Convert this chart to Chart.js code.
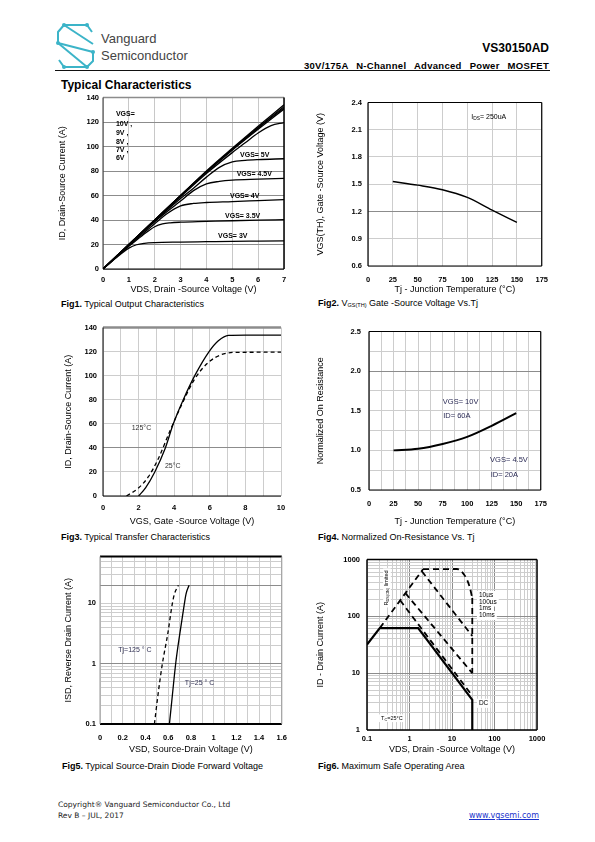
<!DOCTYPE html>
<html lang="en">
<head>
<meta charset="UTF-8">
<title>VS30150AD Typical Characteristics</title>
<script src="https://cdn.jsdelivr.net/npm/chart.js"></script>
<style>
  body { margin:0; background:#fff; width:595px; height:842px; position:relative; overflow:hidden;
         font-family:'Liberation Sans', Arial, sans-serif; color:#000; }
  .t { position:absolute; white-space:nowrap; line-height:1; transform:translateY(-50%); }
  .cap { font-size:9px; color:#000; }
  .cap sub { font-size:5.5px; vertical-align:-1px; }
  canvas { position:absolute; }
</style>
</head>
<body>

<svg style="position:absolute;left:54px;top:20px" width="46" height="54" viewBox="0 0 46 54">
  <g fill="none" stroke="#3cb4c8" stroke-width="2" stroke-linejoin="round">
    <polyline points="38,12 33,5 10,5 4,12 4,23 39,32 39,41 33,47 10,47 5,40"/>
    <polyline points="10,5 39,24"/>
    <polyline points="4,23 33,47"/>
  </g>
  <g fill="#3cb4c8">
    <circle cx="33" cy="5" r="2"/><circle cx="10" cy="5" r="2"/><circle cx="4" cy="23" r="2"/>
    <circle cx="39" cy="32" r="2"/><circle cx="33" cy="47" r="2"/><circle cx="10" cy="47" r="2"/>
  </g>
</svg>
<div class="t" style="left:101px;top:38px;font-size:13px;color:#444">Vanguard</div>
<div class="t" style="left:101px;top:55px;font-size:13px;color:#444">Semiconductor</div>
<div class="t" style="right:46px;top:48px;font-size:12px;font-weight:bold">VS30150AD</div>
<div class="t" style="right:46px;top:66px;font-size:9.5px;font-weight:bold;word-spacing:5px;letter-spacing:0.3px">30V/175A N-Channel Advanced Power MOSFET</div>
<div style="position:absolute;left:55px;top:70px;width:495px;height:1px;background:#111"></div>
<div class="t" style="left:61px;top:85px;font-size:12px;font-weight:bold">Typical Characteristics</div>

<canvas id="c1"></canvas>
<canvas id="c2"></canvas>
<canvas id="c3"></canvas>
<canvas id="c4"></canvas>
<canvas id="c5"></canvas>
<canvas id="c6"></canvas>

<div class="t cap" style="left:61px;top:304px"><b>Fig1.</b> Typical Output Characteristics</div>
<div class="t cap" style="left:318px;top:304px"><b>Fig2.</b> V<sub>GS(TH)</sub> Gate -Source Voltage Vs.Tj</div>
<div class="t cap" style="left:61px;top:537px"><b>Fig3.</b> Typical Transfer Characteristics</div>
<div class="t cap" style="left:318px;top:537px"><b>Fig4.</b> Normalized On-Resistance Vs. Tj</div>
<div class="t cap" style="left:62px;top:766px"><b>Fig5.</b> Typical Source-Drain Diode Forward Voltage</div>
<div class="t cap" style="left:318px;top:766px"><b>Fig6.</b> Maximum Safe Operating Area</div>

<div class="t" style="left:58px;top:805px;font-family:'DejaVu Sans';font-size:7.5px;color:#222">Copyright® Vanguard Semiconductor Co., Ltd</div>
<div class="t" style="left:58px;top:816px;font-family:'DejaVu Sans';font-size:7.5px;color:#222">Rev B – JUL, 2017</div>
<div class="t" style="right:56px;top:816px;font-family:'DejaVu Sans';font-size:8px;color:#1a33cc;text-decoration:underline">www.vgsemi.com</div>

<script>
// ---- Fig1: output characteristics (ID vs VDS)
const f1XTicks = [0, 1, 2, 3, 4, 5, 6, 7];
const f1XLabels = ['0', '1', '2', '3', '4', '5', '6', '7'];
const f1YTicks = [0, 20, 40, 60, 80, 100, 120, 140];
const f1YLabels = ['0', '20', '40', '60', '80', '100', '120', '140'];
const vgs10X = [0, 1, 2, 3, 4, 5, 6, 7];
const vgs10Y = [0, 20, 40, 60, 80, 98.5, 116.5, 134];
const vgs9Y = [0, 20, 40, 60, 79.5, 98, 115.5, 132.5];
const vgs8Y = [0, 20, 40, 60, 79.5, 97.5, 115, 131.5];
const vgs7Y = [0, 20, 40, 59.5, 79, 97, 114, 130.5];
const vgs6X = [0, 1, 2, 3, 4, 5, 5.5, 6, 6.5, 7];
const vgs6Y = [0, 19.8, 39.5, 59, 78, 95, 103, 111, 117, 119.5];
const vgs5X = [0, 1, 2, 3, 3.5, 4, 4.5, 5, 5.5, 6, 7];
const vgs5Y = [0, 19.5, 39, 57.5, 66, 75, 83, 87.5, 88.7, 89.3, 90];
const vgs45X = [0, 1, 2, 3, 3.5, 4, 4.5, 5, 6, 7];
const vgs45Y = [0, 19.5, 38.5, 55.5, 64, 69.5, 71.5, 72.5, 73.3, 74];
const vgs4X = [0, 1, 2, 2.5, 3, 3.5, 4, 5, 6, 7];
const vgs4Y = [0, 19, 37, 45.5, 51.5, 53.5, 54.3, 55, 55.8, 56.6];
const vgs35X = [0, 0.5, 1, 1.5, 2, 2.3, 2.6, 3, 4, 5, 6, 7];
const vgs35Y = [0, 9.5, 18.5, 27, 34.5, 36.8, 37.7, 38.2, 38.8, 39.4, 39.9, 40.3];
const vgs3X = [0, 0.5, 1, 1.3, 1.6, 2, 3, 4, 5, 6, 7];
const vgs3Y = [0, 9, 17, 19.8, 21, 21.6, 22, 22.3, 22.6, 22.8, 23];

// ---- Fig2: threshold voltage vs Tj
const f2XTicks = [0, 25, 50, 75, 100, 125, 150, 175];
const f2XLabels = ['0', '25', '50', '75', '100', '125', '150', '175'];
const f2YTicks = [0.6, 0.9, 1.2, 1.5, 1.8, 2.1, 2.4];
const f2YLabels = ['0.6', '0.9', '1.2', '1.5', '1.8', '2.1', '2.4'];
const vthTj = [25, 50, 75, 100, 125, 150];
const vthV = [1.53, 1.49, 1.44, 1.355, 1.215, 1.08];

// ---- Fig3: transfer characteristics
const f3XTicks = [0, 1, 2, 3, 4, 5, 6, 7, 8, 9, 10];
const f3XLabels = ['0', '', '2', '', '4', '', '6', '', '8', '', '10'];
const f3YTicks = [0, 20, 40, 60, 80, 100, 120, 140];
const f3YLabels = ['0', '20', '40', '60', '80', '100', '120', '140'];
const t25Vgs = [2.0, 2.4, 2.91, 3.48, 3.95, 4.51, 5.17, 5.96, 6.48, 7.05, 8, 10];
const t25Id = [0, 7, 20, 39, 60, 80, 100.4, 120, 129, 133.5, 133.7, 133.7];
const t125Vgs = [1.32, 1.97, 2.54, 3.1, 3.76, 4.42, 5.17, 5.92, 6.67, 7.4, 10];
const t125Id = [0, 6.3, 15.8, 30.8, 54, 75.9, 97.7, 111, 117.6, 119.3, 119.5];

// ---- Fig4: normalized on-resistance vs Tj
const f4XTicks = [0, 12.5, 25, 37.5, 50, 62.5, 75, 87.5, 100, 112.5, 125, 137.5, 150, 162.5, 175];
const f4XLabels = ['0', '', '25', '', '50', '', '75', '', '100', '', '125', '', '150', '', '175'];
const f4YTicks = [0.5, 0.75, 1, 1.25, 1.5, 1.75, 2, 2.25, 2.5];
const f4YLabels = ['0.5', '', '1.0', '', '1.5', '', '2.0', '', '2.5'];
const rdsTj = [25, 50, 75, 100, 125, 150];
const rdsNorm = [1.0, 1.02, 1.08, 1.17, 1.31, 1.47];

// ---- Fig5: source-drain diode forward voltage
const f5XTicks = [0, 0.1, 0.2, 0.3, 0.4, 0.5, 0.6, 0.7, 0.8, 0.9, 1, 1.1, 1.2, 1.3, 1.4, 1.5, 1.6];
const f5XLabels = ['0', '', '0.2', '', '0.4', '', '0.6', '', '0.8', '', '1', '', '1.2', '', '1.4', '', '1.6'];
const f5YTicks = [0.1, 0.2, 0.3, 0.4, 0.5, 0.6, 0.7, 0.8, 0.9, 1, 2, 3, 4, 5, 6, 7, 8, 9, 10, 20, 30, 40, 50, 60];
const f5YLabels = ['0.1', '', '', '', '', '', '', '', '', '1', '', '', '', '', '', '', '', '', '10', '', '', '', '', ''];
const d25V = [0.611, 0.637, 0.666, 0.702, 0.743, 0.757, 0.784];
const d25I = [0.1, 0.3, 1, 3.1, 10, 14.3, 20];
const d125V = [0.479, 0.51, 0.549, 0.596, 0.637, 0.655, 0.69];
const d125I = [0.1, 0.3, 1, 3.1, 10, 14.3, 20];

// ---- Fig6: safe operating area
const f6XTicks = [0.1, 0.2, 0.3, 0.4, 0.5, 0.6, 0.7, 0.8, 0.9, 1, 2, 3, 4, 5, 6, 7, 8, 9, 10,
  20, 30, 40, 50, 60, 70, 80, 90, 100, 200, 300, 400, 500, 600, 700, 800, 900, 1000];
const f6XLabels = f6XTicks.map(v => [0.1, 1, 10, 100, 1000].includes(v) ? String(v) : '');
const f6YTicks = [1, 2, 3, 4, 5, 6, 7, 8, 9, 10, 20, 30, 40, 50, 60, 70, 80, 90, 100,
  200, 300, 400, 500, 600, 700, 800, 900, 1000];
const f6YLabels = f6YTicks.map(v => [1, 10, 100, 1000].includes(v) ? String(v) : '');
const rdsLimV = [0.2, 2.08];
const rdsLimI = [62, 675];
const us10V = [2.08, 13, 20, 26, 30];
const us10I = [675, 680, 520, 330, 210];
const vmaxV = [30, 30];
const vmaxI = [210, 10];
const us100V = [1.95, 30];
const us100I = [620, 45];
const ms1V = [0.8, 30];
const ms1I = [256, 10];
const ms10V = [0.6, 30];
const ms10I = [192, 4];
const dcV = [0.1, 0.2, 1.6, 30, 30];
const dcI = [32, 62, 62, 3.4, 1];

const FONT = "'Liberation Sans', Arial, sans-serif";
const NARROW = "'Liberation Sans Narrow', 'Liberation Sans', Arial, sans-serif";
const TICK = { family: NARROW, size: 7.5, weight: 'bold' };
const LIGHT = '#cdcdcd', DARK = '#8c8c8c';

function line(xs, ys, dash, w, smooth) {
  return {
    data: xs.map((x, i) => ({ x: x, y: ys[i] })),
    borderColor: '#000', borderWidth: w || 1.3, borderDash: dash || [],
    pointRadius: 0, fill: false,
    cubicInterpolationMode: smooth === false ? 'default' : 'monotone',
    tension: 0
  };
}

function axis(o) {
  return {
    type: o.type || 'linear', min: o.min, max: o.max,
    afterBuildTicks: s => { s.ticks = o.ticks.map(v => ({ value: v })); },
    afterFit: s => { if (o.w != null) s.width = o.w; if (o.h != null) s.height = o.h; },
    ticks: { autoSkip: false, maxRotation: 0, minRotation: 0, padding: o.pad, color: '#000', font: TICK,
             callback: (v, i) => o.labels[i] },
    grid: { drawTicks: false, lineWidth: 1,
            color: c => (o.dark && c.tick && o.dark.includes(c.tick.value)) ? DARK : (o.color || LIGHT) },
    border: { display: false },
    title: { display: true, text: o.title, color: '#000', font: { family: FONT, size: 9 }, padding: 0 }
  };
}

// border lines around the plot area: sides = {top:[color,width], ...}
function frame(sides) {
  return {
    id: 'frame',
    beforeDatasetsDraw(chart) {
      const a = chart.chartArea, ctx = chart.ctx;
      const seg = { top: [a.left, a.top, a.right, a.top], bottom: [a.left, a.bottom, a.right, a.bottom],
                    left: [a.left, a.top, a.left, a.bottom], right: [a.right, a.top, a.right, a.bottom] };
      ctx.save();
      Object.keys(sides).forEach(k => {
        const [c, w] = sides[k], s = seg[k];
        ctx.strokeStyle = c; ctx.lineWidth = w;
        ctx.beginPath(); ctx.moveTo(s[0], s[1]); ctx.lineTo(s[2], s[3]); ctx.stroke();
      });
      ctx.restore();
    }
  };
}

// text notes placed in data coordinates
function notes(list) {
  return {
    id: 'notes',
    afterDatasetsDraw(chart) {
      const { ctx, scales: { x, y } } = chart;
      ctx.save();
      list.forEach(n => {
        const size = n.size || 7;
        const parts = n.parts || [{ t: n.t }];
        const fnt = p => (n.bold ? 'bold ' : '') + (p.sub ? size * 0.7 : size) + 'px ' + (n.family || NARROW);
        let w = 0;
        parts.forEach(p => { ctx.font = fnt(p); w += ctx.measureText(p.t).width; });
        ctx.save();
        ctx.translate(x.getPixelForValue(n.x), y.getPixelForValue(n.y));
        if (n.rot) ctx.rotate(-Math.PI / 2);
        let dx = n.rot ? -w / 2 : 0;
        if (n.bg) { ctx.fillStyle = '#fff'; ctx.fillRect(dx - 2, -size * 0.7, w + 4, size * 1.4); }
        ctx.fillStyle = n.color || '#000';
        ctx.textBaseline = 'middle'; ctx.textAlign = 'left';
        parts.forEach(p => {
          ctx.font = fnt(p);
          ctx.fillText(p.t, dx, p.sub ? size * 0.25 : 0);
          dx += ctx.measureText(p.t).width;
        });
        ctx.restore();
      });
      ctx.restore();
    }
  };
}

function makeChart(id, box, xo, yo, datasets, plugins) {
  const padT = 8, padR = 14;
  const cv = document.getElementById(id);
  const left = box.l - box.yW, top = box.t - padT;
  const w = box.r + padR - left, h = box.b + box.xH - top;
  cv.width = w; cv.height = h;
  cv.style.left = left + 'px'; cv.style.top = top + 'px';
  cv.style.width = w + 'px'; cv.style.height = h + 'px';
  xo.h = box.xH; yo.w = box.yW;
  return new Chart(cv, {
    type: 'line',
    data: { datasets: datasets },
    options: {
      responsive: false, animation: false, devicePixelRatio: 1,
      layout: { padding: { top: padT, right: padR, left: 0, bottom: 0 } },
      plugins: { legend: { display: false }, tooltip: { enabled: false } },
      scales: { x: axis(xo), y: axis(yo) }
    },
    plugins: plugins
  });
}

// Fig1
makeChart('c1', { l: 103, t: 97, r: 284, b: 269, yW: 46, xH: 26 },
  { min: 0, max: 7, ticks: f1XTicks, labels: f1XLabels, pad: 6, title: 'VDS, Drain -Source Voltage (V)', color: '#c8c8c8' },
  { min: 0, max: 140, ticks: f1YTicks, labels: f1YLabels, pad: 4, title: 'ID, Drain-Source Current (A)', color: DARK },
  [line(vgs10X, vgs10Y), line(vgs10X, vgs9Y), line(vgs10X, vgs8Y), line(vgs10X, vgs7Y),
   line(vgs6X, vgs6Y), line(vgs5X, vgs5Y), line(vgs45X, vgs45Y), line(vgs4X, vgs4Y),
   line(vgs35X, vgs35Y), line(vgs3X, vgs3Y)],
  [frame({ top: [DARK, 1.5], right: ['#000', 1.5], bottom: ['#000', 1], left: ['#333', 1] }),
   notes([
     { x: 0.5, y: 126.7, t: 'VGS=', bold: true }, { x: 0.5, y: 118.6, t: '10V ,', bold: true },
     { x: 0.5, y: 110.9, t: '9V ,', bold: true }, { x: 0.5, y: 103.6, t: '8V ,', bold: true },
     { x: 0.5, y: 97.4, t: '7V ,', bold: true }, { x: 0.5, y: 90.6, t: '6V', bold: true },
     { x: 5.3, y: 92.8, t: 'VGS= 5V', bold: true }, { x: 5.17, y: 77.3, t: 'VGS= 4.5V', bold: true },
     { x: 4.91, y: 59.7, t: 'VGS= 4V', bold: true }, { x: 4.72, y: 43.1, t: 'VGS= 3.5V', bold: true },
     { x: 4.45, y: 27.1, t: 'VGS= 3V', bold: true }
   ])]);

// Fig2
makeChart('c2', { l: 368, t: 100, r: 543, b: 266, yW: 53, xH: 29 },
  { min: 0, max: 175, ticks: f2XTicks, labels: f2XLabels, pad: 9, title: 'Tj - Junction Temperature (°C)' },
  { min: 0.6, max: 2.4, ticks: f2YTicks, labels: f2YLabels, pad: 6, title: 'VGS(TH), Gate -Source Voltage (V)', dark: [1.2] },
  [line(vthTj, vthV, [], 1.4)],
  [frame({ top: ['#000', 1.2], right: ['#000', 1.2], bottom: ['#000', 1.2], left: ['#000', 1.2] }),
   notes([{ x: 104, y: 2.24, parts: [{ t: 'I' }, { t: 'DS', sub: true }, { t: '= 250uA' }] }])]);

// Fig3
makeChart('c3', { l: 103, t: 325, r: 281, b: 496, yW: 40, xH: 31 },
  { min: 0, max: 10, ticks: f3XTicks, labels: f3XLabels, pad: 7, title: 'VGS, Gate -Source Voltage (V)' },
  { min: 0, max: 140, ticks: f3YTicks, labels: f3YLabels, pad: 6, title: 'ID, Drain-Source Current (A)', dark: [40] },
  [line(t25Vgs, t25Id, [], 1.3), line(t125Vgs, t125Id, [4, 3], 1.3)],
  [frame({ top: [DARK, 2.5], bottom: ['#000', 1], left: ['#000', 1] }),
   notes([{ x: 1.61, y: 56.5, t: '125°C', color: '#333' }, { x: 3.48, y: 24.6, t: '25°C', color: '#333' }])]);

// Fig4
makeChart('c4', { l: 369, t: 327, r: 542, b: 490, yW: 54, xH: 37 },
  { min: 0, max: 175, ticks: f4XTicks, labels: f4XLabels, pad: 9, title: 'Tj - Junction Temperature (°C)' },
  { min: 0.5, max: 2.5, ticks: f4YTicks, labels: f4YLabels, pad: 8, title: 'Normalized On Resistance', dark: [2] },
  [line(rdsTj, rdsNorm, [], 2)],
  [frame({ top: ['#000', 1.2], right: ['#000', 1.2], bottom: ['#000', 1.2], left: ['#000', 1.2] }),
   notes([
     { x: 75.2, y: 1.617, t: 'VGS= 10V', size: 7.5, color: '#2b2b55' },
     { x: 75.6, y: 1.43, t: 'ID= 60A', size: 7.5, color: '#2b2b55' },
     { x: 123.4, y: 0.88, t: 'VGS= 4.5V', size: 7.5, color: '#2b2b55' },
     { x: 124, y: 0.696, t: 'ID= 20A', size: 7.5, color: '#2b2b55' }
   ])]);

// Fig5
makeChart('c5', { l: 100, t: 556, r: 282, b: 724, yW: 37, xH: 31 },
  { min: 0, max: 1.6, ticks: f5XTicks, labels: f5XLabels, pad: 9, title: 'VSD, Source-Drain Voltage (V)' },
  { type: 'logarithmic', min: 0.1, max: 60, ticks: f5YTicks, labels: f5YLabels, pad: 4,
    title: 'ISD, Reverse Drain Current (A)', dark: [1, 20] },
  [line(d25V, d25I, [], 1.3), line(d125V, d125I, [4, 3], 1.3)],
  [frame({ top: ['#000', 2], bottom: ['#000', 2], left: ['#999', 1], right: ['#999', 1] }),
   notes([
     { x: 0.161, y: 1.7, t: 'Tj=125 ° C', color: '#333355' },
     { x: 0.747, y: 0.48, t: 'Tj=25 ° C', color: '#333355' }
   ])]);

// Fig6
makeChart('c6', { l: 367, t: 556, r: 537, b: 730, yW: 52, xH: 25 },
  { type: 'logarithmic', min: 0.1, max: 1000, ticks: f6XTicks, labels: f6XLabels, pad: 4,
    title: 'VDS, Drain -Source Voltage (V)', dark: [1, 10, 100] },
  { type: 'logarithmic', min: 1, max: 1000, ticks: f6YTicks, labels: f6YLabels, pad: 7,
    title: 'ID - Drain Current (A)', dark: [10, 100] },
  [line(rdsLimV, rdsLimI, [6, 4], 1.8, false), line(us10V, us10I, [6, 4], 1.8),
   line(vmaxV, vmaxI, [6, 4], 1.8, false), line(us100V, us100I, [6, 4], 1.8, false),
   line(ms1V, ms1I, [6, 4], 1.8, false), line(ms10V, ms10I, [6, 4], 1.8, false),
   line(dcV, dcI, [], 2.2, false)],
  [frame({ top: ['#000', 1.5], right: ['#000', 1.5], bottom: ['#000', 1.5], left: ['#000', 1.5] }),
   notes([
     { x: 0.295, y: 316, rot: true, size: 5.5, parts: [{ t: 'R' }, { t: 'DS(ON)', sub: true }, { t: ' limited' }], bg: true },
     { x: 43, y: 233, t: '10µs', size: 6.5, bg: true }, { x: 43, y: 179, t: '100µs', size: 6.5, bg: true },
     { x: 43, y: 137, t: '1ms', size: 6.5, bg: true }, { x: 43, y: 103, t: '10ms', size: 6.5, bg: true },
     { x: 43, y: 2.95, t: 'DC', size: 6.5, bg: true },
     { x: 0.214, y: 1.61, size: 5.5, bg: true, parts: [{ t: 'T' }, { t: 'C', sub: true }, { t: '=25°C' }] }
   ])]);
</script>
</body>
</html>
